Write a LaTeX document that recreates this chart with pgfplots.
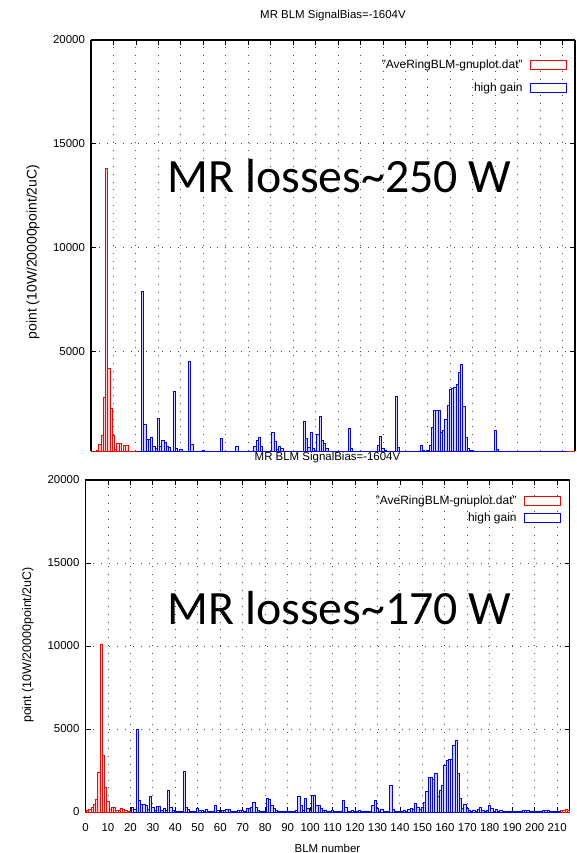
\documentclass[border=0pt]{standalone}
\usepackage{fontspec}
\setmainfont{Liberation Sans}
\newfontfamily\calib{Carlito}
\usepackage{pgfplots}
\pgfplotsset{compat=1.18}
\definecolor{gpred}{RGB}{255,0,0}
\definecolor{gpblue}{RGB}{0,0,255}
\pgfplotsset{gp/.style={
  scale only axis, width=484bp, xmin=0, xmax=215.5, ymax=20000,
  tick align=inside, major tick length=5bp,
  tick style={black, line width=0.8bp},
  grid=major, major grid style={black!70, line width=0.9bp, dash pattern=on 0.9bp off 7bp},
  axis line style={black, line width=1.4bp},
  xtick={0,10,...,210}, ytick={0,5000,...,20000},
  scaled y ticks=false,
  /pgf/number format/assume math mode=true,
  yticklabel style={/pgf/number format/1000 sep={}, font=\fontsize{11.5}{12}\selectfont, xshift=-2.5bp},
  xticklabel style={font=\fontsize{11.5}{12}\selectfont, yshift=-8bp},
  legend cell align=right, legend plot pos=right,
  legend style={draw=none, fill=none, font=\fontsize{12}{13}\selectfont, inner sep=0pt, column sep=5bp},
},
bars/.style={ybar, bar width=1, bar shift=0pt, line width=0.9bp},
redbox/.style={legend image code/.code={\draw[draw=gpred, fill=white, line width=1bp] (0bp,-4.5bp) rectangle (36bp,4.5bp);}},
bluebox/.style={legend image code/.code={\draw[draw=gpblue, fill=white, line width=1bp] (0bp,-4.5bp) rectangle (36bp,4.5bp);}},
}
\begin{document}
\begin{tikzpicture}
\useasboundingbox (0bp,0bp) rectangle (577bp,-853bp);
% ---------------- top panel ----------------
\begin{axis}[gp, at={(91bp,-451bp)}, anchor=south west, height=411bp, ymin=193,
  axis x line*=top, xticklabels={},
  legend style={at={(0.983,0.956)}, anchor=north east, row sep=8bp}]
\addplot[bars, draw=gpred, fill=gpred!18, redbox] coordinates {
(0,0)(1,50)(2,100)(3,200)(4,500)(5,950)(6,2750)(7,13800)(8,4150)(9,2250)(10,950)(11,250)(12,550)(13,550)(14,150)(15,450)(16,450)(17,100)(18,60)(19,50)(20,50)(212,60)(213,80)(214,100)(215,60)};
\addlegendentry{"AveRingBLM-gnuplot.dat"}
\addplot[bars, draw=gpblue, fill=gpblue!18, bluebox] coordinates {
(21,100)(22,150)(23,7900)(24,1450)(25,750)(26,750)(27,850)(28,400)(29,300)(30,1770)(31,400)(32,700)(33,600)(34,400)(35,350)(36,100)(37,3050)(38,300)(39,100)(40,250)(41,60)(42,60)(43,100)(44,4500)(45,500)(46,150)(47,100)(48,60)(49,60)(50,200)(51,100)(52,60)(53,60)(54,60)(55,60)(56,60)(57,60)(58,800)(59,100)(60,60)(61,60)(62,60)(63,60)(64,60)(65,400)(66,100)(67,60)(68,60)(69,60)(70,60)(71,60)(72,60)(73,400)(74,700)(75,850)(76,400)(77,150)(78,60)(79,60)(80,60)(81,1100)(82,650)(83,250)(84,400)(85,300)(86,150)(87,60)(88,60)(89,60)(90,60)(91,60)(92,60)(93,60)(94,100)(95,1600)(96,800)(97,350)(98,1100)(99,300)(100,100)(101,1000)(102,1850)(103,700)(104,550)(105,300)(106,100)(107,60)(108,60)(109,60)(110,60)(111,60)(112,60)(113,60)(114,60)(115,1300)(116,300)(117,100)(118,60)(119,60)(120,60)(121,60)(122,150)(123,150)(124,60)(125,60)(126,60)(127,60)(128,450)(129,900)(130,300)(131,200)(132,60)(133,60)(134,60)(135,60)(136,2800)(137,350)(138,100)(139,60)(140,60)(141,60)(142,100)(143,100)(144,100)(145,100)(146,150)(147,450)(148,200)(149,100)(150,200)(151,450)(152,1350)(153,2150)(154,2150)(155,2150)(156,1100)(157,1200)(158,1700)(159,2400)(160,3150)(161,3200)(162,3250)(163,3400)(164,4000)(165,4350)(166,2330)(167,850)(168,300)(169,200)(170,200)(171,60)(172,60)(173,60)(174,60)(175,60)(176,60)(177,60)(178,60)(179,60)(180,1200)(181,250)(182,60)(183,60)(184,60)(185,60)(186,60)(187,60)(188,60)(189,60)(190,60)(191,60)(192,60)(193,60)(194,60)(195,60)(196,60)(197,60)(198,60)(199,60)(200,60)(201,60)(202,60)(203,60)(204,60)(205,60)(206,60)(207,60)(208,60)(209,60)(210,60)(211,60)};
\addlegendentry{high gain}
\end{axis}
\node[font=\fontsize{11.5}{12}\selectfont] at (333bp,-16bp) {MR BLM SignalBias=-1604V};
\node[rotate=90, font=\fontsize{14}{15}\selectfont] at (33bp,-252bp) {point (10W/20000point/2uC)};
\node[anchor=base west, font=\calib\fontsize{48}{50}\selectfont] at (164bp,-192bp) {MR losses\textasciitilde 250 W};
% ---------------- bottom panel ----------------
\begin{axis}[gp, at={(85.5bp,-812bp)}, anchor=south west, height=332bp, ymin=0,
  legend style={at={(0.982,0.958)}, anchor=north east, row sep=3bp}]
\addplot[bars, draw=gpred, fill=gpred!18, redbox] coordinates {
(0,50)(1,80)(2,150)(3,300)(4,450)(5,750)(6,2400)(7,10100)(8,3400)(9,1500)(10,650)(11,150)(12,250)(13,250)(14,100)(15,100)(16,200)(17,150)(18,80)(19,50)(20,50)(212,80)(213,100)(214,150)(215,100)};
\addlegendentry{"AveRingBLM-gnuplot.dat"}
\addplot[bars, draw=gpblue, fill=gpblue!18, bluebox] coordinates {
(21,300)(22,150)(23,5000)(24,700)(25,450)(26,450)(27,400)(28,150)(29,920)(30,300)(31,100)(32,350)(33,350)(34,100)(35,220)(36,100)(37,1280)(38,300)(39,120)(40,60)(41,60)(42,60)(43,60)(44,2450)(45,250)(46,150)(47,60)(48,60)(49,60)(50,200)(51,120)(52,120)(53,60)(54,150)(55,60)(56,60)(57,60)(58,420)(59,100)(60,60)(61,100)(62,100)(63,180)(64,180)(65,60)(66,60)(67,60)(68,100)(69,100)(70,100)(71,60)(72,200)(73,200)(74,300)(75,560)(76,250)(77,120)(78,60)(79,60)(80,60)(81,820)(82,780)(83,420)(84,200)(85,120)(86,60)(87,60)(88,60)(89,60)(90,60)(91,60)(92,60)(93,60)(94,100)(95,920)(96,380)(97,100)(98,820)(99,220)(100,100)(101,980)(102,980)(103,380)(104,420)(105,220)(106,120)(107,120)(108,60)(109,60)(110,80)(111,60)(112,60)(113,60)(114,60)(115,720)(116,250)(117,60)(118,60)(119,100)(120,60)(121,60)(122,100)(123,60)(124,60)(125,60)(126,60)(127,60)(128,380)(129,680)(130,220)(131,60)(132,150)(133,60)(134,60)(135,60)(136,1620)(137,150)(138,60)(139,60)(140,60)(141,60)(142,120)(143,60)(144,150)(145,200)(146,150)(147,520)(148,280)(149,150)(150,300)(151,580)(152,1220)(153,2090)(154,2090)(155,1990)(156,2330)(157,960)(158,1280)(159,1570)(160,2830)(161,3130)(162,3170)(163,3170)(164,3980)(165,4340)(166,2300)(167,790)(168,220)(169,480)(170,220)(171,100)(172,60)(173,100)(174,60)(175,150)(176,280)(177,100)(178,60)(179,100)(180,420)(181,200)(182,60)(183,150)(184,60)(185,100)(186,60)(187,60)(188,60)(189,60)(190,60)(191,60)(192,60)(193,60)(194,60)(195,100)(196,100)(197,100)(198,60)(199,60)(200,60)(201,60)(202,60)(203,60)(204,100)(205,100)(206,100)(207,60)(208,60)(209,60)(210,60)(211,60)};
\addlegendentry{high gain}
\end{axis}
\node[font=\fontsize{11.5}{12}\selectfont] at (327.5bp,-458bp) {MR BLM SignalBias=-1604V};
\node[rotate=90, font=\fontsize{12.5}{13}\selectfont] at (28bp,-645bp) {point (10W/20000point/2uC)};
\node[font=\fontsize{11.5}{12}\selectfont] at (327.5bp,-848bp) {BLM number};
\node[anchor=base west, font=\calib\fontsize{48}{50}\selectfont] at (164bp,-624bp) {MR losses\textasciitilde 170 W};
\end{tikzpicture}
\end{document}
